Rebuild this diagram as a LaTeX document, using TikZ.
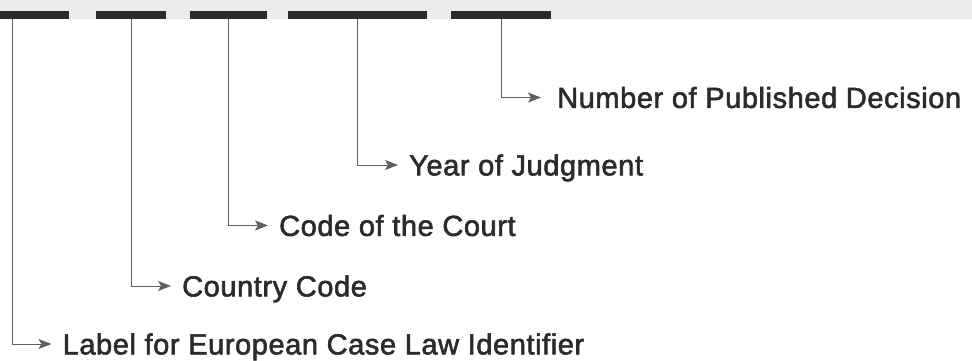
\documentclass[tikz,border=0pt]{standalone}
\usepackage{fontspec}
\setmainfont{Liberation Sans}[LetterSpace=2, FakeBold=2, AutoFakeBold=2]
\usepackage{xcolor}
\definecolor{bandgray}{RGB}{235, 236, 235}
\definecolor{segdark}{RGB}{43, 42, 40}
\definecolor{linegray}{RGB}{95, 95, 95}
\definecolor{textdark}{RGB}{43, 43, 43}
\usetikzlibrary{arrows.meta, positioning}

\begin{document}
\begin{tikzpicture}[
    x=1pt, y=-1pt,
    segment/.style={rectangle, fill=segdark, inner sep=0pt, minimum height=8pt, anchor=north west},
    fieldname/.style={anchor=west, inner xsep=11pt, inner ysep=0pt, text height=20.8pt, text depth=0pt, font=\fontsize{29}{34}\selectfont\bfseries, text=textdark},
    arrow/.style={-{Stealth[length=13pt, width=10pt, inset=3pt]}, line width=1pt, draw=linegray}
]
    \useasboundingbox (0,0) rectangle (972,361);
    \fill[bandgray] (0,0) rectangle (972,19);

    % parts of the identifier
    \node[segment, minimum width=69pt] (ecli) at (0,11) {};
    \node[segment, minimum width=70pt] (country) at (96,11) {};
    \node[segment, minimum width=77pt] (court) at (190,11) {};
    \node[segment, minimum width=139pt] (year) at (288,11) {};
    \node[segment, minimum width=100pt] (number) at (451,11) {};

    % what each part means
    \node[fieldname, inner xsep=16pt] (numbertext) at (541,97.5) {Number of Published Decision};
    \node[fieldname] (yeartext) at (398,165) {Year of Judgment};
    \node[fieldname] (courttext) at (268,225.5) {Code of the Court};
    \node[fieldname] (countrytext) at (171,286) {Country Code};
    \node[fieldname] (eclitext) at (51.5,344) {Label for European Case Law Identifier};

    \draw[arrow] ([xshift=12pt]ecli.south west) |- (eclitext.west);
    \draw[arrow] (country.south) |- (countrytext.west);
    \draw[arrow] (court.south) |- (courttext.west);
    \draw[arrow] (year.south) |- (yeartext.west);
    \draw[arrow] (number.south) |- (numbertext.west);
\end{tikzpicture}
\end{document}
